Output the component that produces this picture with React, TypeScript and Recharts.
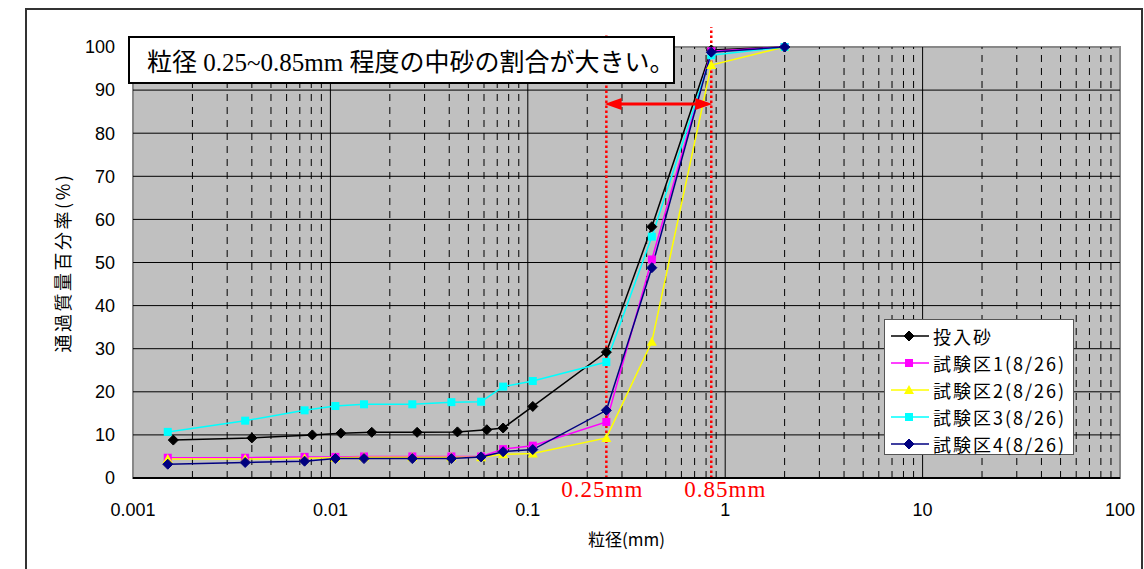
import React from 'react';
import {
  ComposedChart,
  Line,
  XAxis,
  YAxis,
  CartesianGrid,
  ReferenceLine,
  ReferenceArea,
  ReferenceDot,
  Legend,
} from 'recharts';

// particle sizes (mm)
const sizesPlots = [0.0015, 0.0037, 0.0074, 0.0106, 0.0148, 0.026, 0.041, 0.058, 0.075, 0.106, 0.25, 0.425, 0.85, 2];
const sizesSand = [0.0016, 0.004, 0.0081, 0.0113, 0.0162, 0.0275, 0.044, 0.062, 0.075, 0.106, 0.25, 0.425, 0.85, 2];

// passing percentage (%)
const sand = [8.8, 9.3, 10.0, 10.4, 10.6, 10.6, 10.7, 11.2, 11.6, 16.6, 29.2, 58.3, 99.3, 100];
const plot1 = [4.7, 4.7, 4.9, 4.9, 5.0, 5.0, 5.0, 5.0, 6.7, 7.5, 13.0, 50.7, 99.0, 100];
const plot2 = [4.4, 4.4, 4.6, 4.7, 4.8, 4.8, 4.8, 4.8, 5.5, 5.7, 9.3, 31.6, 95.8, 100];
const plot3 = [10.7, 13.3, 15.7, 16.7, 17.1, 17.1, 17.6, 17.7, 21.2, 22.5, 26.9, 56.0, 98.1, 100];
const plot4 = [3.2, 3.6, 3.9, 4.5, 4.5, 4.5, 4.5, 4.9, 6.1, 6.6, 15.7, 48.8, 98.8, 100];

const xTicks = [0.001, 0.01, 0.1, 1, 10, 100];
const yTicks = [0, 10, 20, 30, 40, 50, 60, 70, 80, 90, 100];
const hGrid = [10, 20, 30, 40, 50, 60, 70, 80, 90];
const majorX = [0.01, 0.1, 1, 10];
const minorX: number[] = [];
[0.001, 0.01, 0.1, 1, 10].forEach((d) => {
  for (let m = 2; m <= 9; m++) minorX.push(+(d * m).toPrecision(3));
});

const toData = (xs: number[], ys: number[]) => xs.map((x, i) => ({ x, y: ys[i] }));

const diamond = (color: string, r = 5) => (p: any) => {
  const { cx, cy, index } = p;
  if (cx == null || cy == null) return <g key={index} />;
  return (
    <polygon
      key={index}
      points={`${cx},${cy - r} ${cx + r},${cy} ${cx},${cy + r} ${cx - r},${cy}`}
      fill={color}
      stroke={color}
    />
  );
};

const square = (color: string, s = 4) => (p: any) => {
  const { cx, cy, index } = p;
  if (cx == null || cy == null) return <g key={index} />;
  return <rect key={index} x={cx - s} y={cy - s} width={s * 2} height={s * 2} fill={color} />;
};

const triangle = (color: string, s = 5) => (p: any) => {
  const { cx, cy, index } = p;
  if (cx == null || cy == null) return <g key={index} />;
  return (
    <polygon key={index} points={`${cx},${cy - s} ${cx + s},${cy + s - 1} ${cx - s},${cy + s - 1}`} fill={color} />
  );
};

const series = [
  { name: '投入砂', color: '#000000', data: toData(sizesSand, sand), dot: diamond('#000000') },
  { name: '試験区1(8/26)', color: '#FF00FF', data: toData(sizesPlots, plot1), dot: square('#FF00FF') },
  { name: '試験区2(8/26)', color: '#FFFF00', data: toData(sizesPlots, plot2), dot: triangle('#FFFF00') },
  { name: '試験区3(8/26)', color: '#00FFFF', data: toData(sizesPlots, plot3), dot: square('#00FFFF') },
  { name: '試験区4(8/26)', color: '#000080', data: toData(sizesPlots, plot4), dot: diamond('#000080') },
];

const gothic = "'Noto Sans CJK JP', 'Liberation Sans', sans-serif";
const serif = "'Liberation Serif', 'Noto Sans CJK JP', serif";
const sans = "'Liberation Sans', Arial, sans-serif";

const LegendBox = () => (
  <div
    style={{
      width: 190,
      height: 136,
      background: '#fff',
      border: '1px solid #555',
      boxSizing: 'border-box',
      paddingTop: 2,
    }}
  >
    {series.map((s, i) => (
      <div key={i} style={{ display: 'flex', alignItems: 'center', height: 27 }}>
        <svg width={48} height={20} style={{ flex: 'none' }}>
          <line x1={6} x2={44} y1={10} y2={10} stroke={s.color} strokeWidth={1.5} />
          {s.dot({ cx: 24, cy: 10, index: 0 })}
        </svg>
        <span
          style={{ fontFamily: gothic, fontSize: 18, letterSpacing: 2, color: '#000', lineHeight: '20px' }}
        >
          {s.name}
        </span>
      </div>
    ))}
  </div>
);

const cutLabel = (text: string, dx: number) => (p: any) => {
  const vb = p.viewBox || {};
  return (
    <text
      x={(vb.x || 0) + dx}
      y={(vb.y || 0) + (vb.height || 0) + 19}
      textAnchor="middle"
      fill="#FF0000"
      fontSize={23}
      letterSpacing={1}
      fontFamily={serif}
    >
      {text}
    </text>
  );
};

const arrowHead = (dir: number) => (p: any) => {
  const { cx, cy } = p;
  return (
    <polygon
      points={`${cx},${cy} ${cx - dir * 17},${cy - 6} ${cx - dir * 17},${cy + 6}`}
      fill="#FF0000"
    />
  );
};

export default function App() {
  return (
    <div style={{ position: 'absolute', left: 0, top: 0, width: 1144, height: 569, background: '#fff', overflow: 'hidden' }}>
      <div
        style={{
          position: 'absolute',
          left: 25,
          top: 8,
          width: 1118,
          height: 600,
          border: '2px solid #333',
          boxSizing: 'border-box',
        }}
      />
      <ComposedChart
        width={1144}
        height={569}
        margin={{ top: 47, right: 24, bottom: 61, left: 73 }}
        style={{ position: 'absolute', left: 0, top: 0 }}
      >
        <CartesianGrid horizontal={false} vertical={false} fill="#C0C0C0" />
        <XAxis
          dataKey="x"
          type="number"
          scale="log"
          domain={[0.001, 100]}
          ticks={xTicks}
          allowDataOverflow
          axisLine={{ stroke: '#000', strokeWidth: 2 }}
          tickLine={false}
          tickSize={0}
          tickMargin={25}
          height={30}
          tick={{ fill: '#000', fontSize: 18, fontFamily: sans }}
          label={{
            value: '粒径(mm)',
            position: 'insideBottom',
            offset: -38,
            fill: '#000',
            fontSize: 17,
            fontFamily: gothic,
          }}
        />
        <YAxis
          dataKey="y"
          type="number"
          domain={[0, 100]}
          ticks={yTicks}
          axisLine={false}
          tickLine={false}
          tickSize={0}
          tickMargin={18}
          width={60}
          tick={{ fill: '#000', fontSize: 18, fontFamily: sans }}
          label={{
            value: '通過質量百分率(%)',
            angle: -90,
            position: 'insideLeft',
            offset: -9,
            dy: 0,
            fill: '#000',
            fontSize: 18,
            letterSpacing: 2.5,
            fontFamily: gothic,
            style: { textAnchor: 'middle' },
          }}
        />
        {hGrid.map((v) => (
          <ReferenceLine key={'h' + v} y={v} stroke="#000" strokeWidth={1} />
        ))}
        {minorX.map((v) => (
          <ReferenceLine key={'m' + v} x={v} stroke="#000" strokeWidth={1} strokeDasharray="7 6" />
        ))}
        {majorX.map((v) => (
          <ReferenceLine key={'M' + v} x={v} stroke="#000" strokeWidth={1} />
        ))}
        <ReferenceArea x1={0.001} x2={100} y1={0} y2={100} fill="none" stroke="#888" strokeWidth={2} />
        {series.map((s) => (
          <Line
            key={s.name}
            data={s.data}
            dataKey="y"
            name={s.name}
            stroke={s.color}
            strokeWidth={1.5}
            dot={s.dot}
            activeDot={false}
            isAnimationActive={false}
          />
        ))}
        <ReferenceLine
          segment={[{ x: 0.25, y: 0 }, { x: 0.25, y: 103.2 }]}
          ifOverflow="visible"
          stroke="#FF0000"
          strokeWidth={2.5}
          strokeDasharray="2.5 2.5"
          label={cutLabel('0.25mm', -4)}
        />
        <ReferenceLine
          segment={[{ x: 0.85, y: 0 }, { x: 0.85, y: 104.6 }]}
          ifOverflow="visible"
          stroke="#FF0000"
          strokeWidth={2.5}
          strokeDasharray="2.5 2.5"
          label={cutLabel('0.85mm', 14)}
        />
        <ReferenceLine
          segment={[{ x: 0.262, y: 86.8 }, { x: 0.81, y: 86.8 }]}
          stroke="#FF0000"
          strokeWidth={3}
        />
        <ReferenceDot x={0.245} y={86.8} shape={arrowHead(-1)} ifOverflow="visible" />
        <ReferenceDot x={0.86} y={86.8} shape={arrowHead(1)} ifOverflow="visible" />
        <Legend
          layout="vertical"
          align="center"
          verticalAlign="middle"
          content={<LegendBox />}
          wrapperStyle={{ position: 'absolute', left: 884, top: 319, width: 190, height: 136 }}
        />
      </ComposedChart>
      <div
        style={{
          position: 'absolute',
          left: 128,
          top: 36,
          width: 547,
          height: 48,
          background: '#fff',
          border: '2px solid #000',
          boxSizing: 'border-box',
          display: 'flex',
          alignItems: 'center',
          paddingLeft: 17,
          fontFamily: serif,
          fontSize: 25,
          color: '#000',
          whiteSpace: 'nowrap',
        }}
      >
        粒径 0.25~0.85mm 程度の中砂の割合が大きい。
      </div>
    </div>
  );
}
